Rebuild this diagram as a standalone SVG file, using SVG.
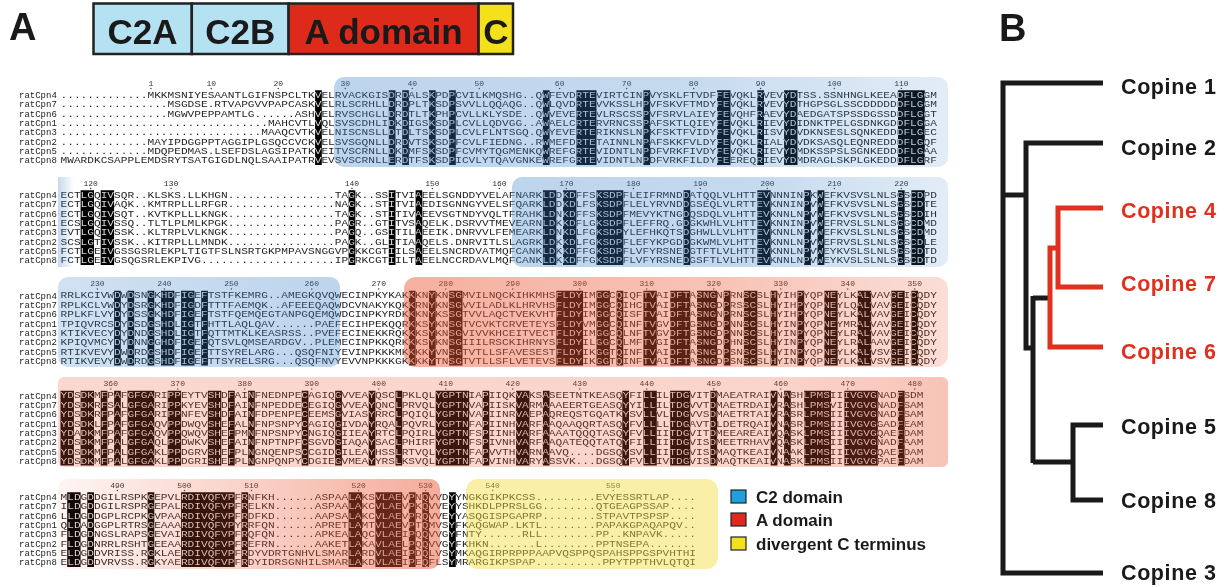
<svg xmlns="http://www.w3.org/2000/svg" xmlns:xlink="http://www.w3.org/1999/xlink" width="1232" height="587" viewBox="0 0 1232 587">
<defs>
<style>
.s{font-family:"Liberation Mono","DejaVu Sans Mono",monospace;font-size:9px;fill:#1e1e1e}
.n{font-family:"Liberation Mono","DejaVu Sans Mono",monospace;font-size:9px;fill:#222}
.t{font-family:"Liberation Mono","DejaVu Sans Mono",monospace;font-size:8px;fill:#333;text-anchor:middle}
.td{fill:none;stroke:#333;stroke-width:1.4;stroke-linecap:round}
.h{font-family:"Liberation Sans",Arial,sans-serif;font-weight:bold}
.hb{stroke:#222;stroke-width:2.5}
.tr{fill:none;stroke:#1a1a1a;stroke-width:5;stroke-linejoin:miter}
.trr{fill:none;stroke:#e0301e;stroke-width:5;stroke-linejoin:miter}
.lg{stroke:#222;stroke-width:1.2}
.inv{fill:#fff;mix-blend-mode:difference}
</style>
<linearGradient id="gB1" x1="0" x2="1"><stop offset="0" stop-color="#3c82c8" stop-opacity=".34"/><stop offset=".55" stop-color="#3c82c8" stop-opacity=".3"/><stop offset="1" stop-color="#3c82c8" stop-opacity=".15"/></linearGradient>
<linearGradient id="gFade" x1="0" x2="1"><stop offset="0" stop-color="#3c82c8" stop-opacity=".3"/><stop offset="1" stop-color="#3c82c8" stop-opacity="0"/></linearGradient>
<linearGradient id="gB3" x1="0" x2="1"><stop offset="0" stop-color="#3c82c8" stop-opacity=".24"/><stop offset="1" stop-color="#3c82c8" stop-opacity=".34"/></linearGradient>
<linearGradient id="gR3" x1="0" x2="1"><stop offset="0" stop-color="#eb5a37" stop-opacity=".48"/><stop offset=".6" stop-color="#eb5a37" stop-opacity=".36"/><stop offset="1" stop-color="#eb5a37" stop-opacity=".2"/></linearGradient>
<linearGradient id="gR4" x1="0" x2="1"><stop offset="0" stop-color="#eb5a37" stop-opacity=".24"/><stop offset=".8" stop-color="#eb5a37" stop-opacity=".26"/><stop offset="1" stop-color="#eb5a37" stop-opacity=".36"/></linearGradient>
<linearGradient id="gR5" x1="0" x2="1"><stop offset="0" stop-color="#eb5a37" stop-opacity=".06"/><stop offset="1" stop-color="#eb5a37" stop-opacity=".5"/></linearGradient>
<path id="k1" d="M315.1 90.3h6.7v74.8h-6.7zM388.8 90.3h6.7v74.8h-6.7zM402.2 90.3h6.7v74.8h-6.7zM429 90.3h6.7v74.8h-6.7zM449.1 90.3h6.7v74.8h-6.7zM542.9 90.3h6.7v74.8h-6.7zM576.4 90.3h20.1v74.8h-20.1zM643.4 90.3h6.7v74.8h-6.7zM717.1 90.3h13.4v74.8h-13.4zM757.3 90.3h6.7v74.8h-6.7zM784.1 90.3h13.4v74.8h-13.4zM898 90.3h26.8v74.8h-26.8z"/>
<path id="k2" d="M80.6 190.3h13.4v74.8h-13.4zM100.7 190.3h13.4v74.8h-13.4zM348.6 190.3h6.7v74.8h-6.7zM388.8 190.3h6.7v74.8h-6.7zM415.6 190.3h6.7v74.8h-6.7zM542.9 190.3h13.4v74.8h-13.4zM563 190.3h13.4v74.8h-13.4zM596.5 190.3h26.8v74.8h-26.8zM683.6 190.3h6.7v74.8h-6.7zM757.3 190.3h13.4v74.8h-13.4zM804.2 190.3h6.7v74.8h-6.7zM817.6 190.3h6.7v74.8h-6.7zM898 190.3h6.7v74.8h-6.7zM911.4 190.3h13.4v74.8h-13.4z"/>
<path id="k3" d="M114.1 290.8h6.7v74.8h-6.7zM127.5 290.8h6.7v74.8h-6.7zM147.6 290.8h6.7v74.8h-6.7zM161 290.8h13.4v74.8h-13.4zM181.1 290.8h13.4v74.8h-13.4zM201.2 290.8h6.7v74.8h-6.7zM408.9 290.8h6.7v74.8h-6.7zM429 290.8h6.7v74.8h-6.7zM449.1 290.8h13.4v74.8h-13.4zM556.3 290.8h26.8v74.8h-26.8zM596.5 290.8h13.4v74.8h-13.4zM616.6 290.8h6.7v74.8h-6.7zM643.4 290.8h13.4v74.8h-13.4zM670.2 290.8h20.1v74.8h-20.1zM697 290.8h20.1v74.8h-20.1zM723.8 290.8h6.7v74.8h-6.7zM743.9 290.8h13.4v74.8h-13.4zM770.7 290.8h6.7v74.8h-6.7zM797.5 290.8h6.7v74.8h-6.7zM824.3 290.8h13.4v74.8h-13.4zM857.8 290.8h13.4v74.8h-13.4zM891.3 290.8h13.4v74.8h-13.4zM911.4 290.8h6.7v74.8h-6.7z"/>
<path id="k4" d="M60.5 390.8h13.4v74.8h-13.4zM80.6 390.8h13.4v74.8h-13.4zM100.7 390.8h6.7v74.8h-6.7zM114.1 390.8h6.7v74.8h-6.7zM127.5 390.8h26.8v74.8h-26.8zM167.7 390.8h13.4v74.8h-13.4zM207.9 390.8h13.4v74.8h-13.4zM228 390.8h6.7v74.8h-6.7zM248.1 390.8h6.7v74.8h-6.7zM301.7 390.8h6.7v74.8h-6.7zM335.2 390.8h6.7v74.8h-6.7zM368.7 390.8h6.7v74.8h-6.7zM395.5 390.8h6.7v74.8h-6.7zM435.7 390.8h33.5v74.8h-33.5zM482.6 390.8h6.7v74.8h-6.7zM516.1 390.8h13.4v74.8h-13.4zM542.9 390.8h6.7v74.8h-6.7zM622.3 390.8h6.7v74.8h-6.7zM643.4 390.8h13.4v74.8h-13.4zM670.2 390.8h20.1v74.8h-20.1zM710.4 390.8h6.7v74.8h-6.7zM770.7 390.8h6.7v74.8h-6.7zM784.1 390.8h6.7v74.8h-6.7zM804.2 390.8h26.8v74.8h-26.8zM844.4 390.8h33.5v74.8h-33.5zM898 390.8h6.7v74.8h-6.7z"/>
<path id="k5" d="M67.2 492.3h13.4v74.8h-13.4zM87.3 492.3h6.7v74.8h-6.7zM147.6 492.3h6.7v74.8h-6.7zM181.1 492.3h53.6v74.8h-53.6zM241.4 492.3h6.7v74.8h-6.7zM348.6 492.3h13.4v74.8h-13.4zM375.4 492.3h26.8v74.8h-26.8zM408.9 492.3h6.7v74.8h-6.7zM422.3 492.3h6.7v74.8h-6.7zM449.1 492.3h6.7v74.8h-6.7z"/>
</defs>
<rect width="1232" height="587" fill="#fff"/>

<g id="panelA-label"><text class="h" x="9" y="40" font-size="38" fill="#1a1a1a">A</text></g>
<g id="domain-bar">
<rect class="hb" x="93.5" y="3.5" width="98.3" height="50.5" fill="#b5e2f3"/>
<rect class="hb" x="191.8" y="3.5" width="96.8" height="50.5" fill="#b5e2f3"/>
<rect class="hb" x="288.6" y="3.5" width="190" height="50.5" fill="#dd2a1b"/>
<rect class="hb" x="478.6" y="3.5" width="34.4" height="50.5" fill="#f5e01c"/>
<g class="h" font-size="35" fill="#1a1a1a" text-anchor="middle">
<text x="142.6" y="44">C2A</text><text x="240.2" y="44">C2B</text><text x="383.6" y="44">A domain</text><text x="495.8" y="44">C</text>
</g>
</g>

<!-- Block 1 -->
<g id="block1">
<g transform="matrix(1.24056 0 0 1 60.5 0)"><text class="s"><tspan x="0" y="98">.............MKKMSNIYESAANTLGIFNSPCLTKVELRVACKGISDRDALSKPDPCVILKMQSHG..QWFEVDRTEVIRTCINPVYSKLFTVDFFEVQKLRVEVYDTSS.SSNHNGLKEEADFLGGM</tspan><tspan x="0" y="107.35">................MSGDSE.RTVAPGVVPAPCASKVELRLSCRHLLDRDPLTKSDPSVVLLQQAQG..QWLQVDRTEVVKSSLHPVFSKVFTMDYFEVQKLRVEVYDTHGPSGLSSCDDDDDDFLGGM</tspan><tspan x="0" y="116.7">................MGWVPEPPAMTLG......ASHVELRVSCHGLLDRDTLTKPHPCVLLKLYSDE..QWVEVERTEVLRSCSSPVFSRVLAIEYFEVQHFRAEVYDAEDGATSPSSDGSSDDFLGGT</tspan><tspan x="0" y="126.05">...............................MAHCVTLVQLSVSCDHLIDKDIGSKSDPLCVLLQDVGG..AWAELCRTERVRNCSSPAFSKTLQIEYFEVQKLRIEVYDIDNKTPELGSDNKGDDFLGGA</tspan><tspan x="0" y="135.4">..............................MAAQCVTKVELNISCNSLLDTDLTSKSDPLCVLFLNTSGQ.QWYEVERTERIKNSLNPKFSKTFVIDYFEVQKLRISVYDVDKNSESLSQNKEDDDFLGEC</tspan><tspan x="0" y="144.75">.............MAYIPDGGPPTAGGIPLGSQCCVCKVELSVSGQNLLDRDVTSKSDPFCVLFIEDNG..RWMEFDRTETAINNLNPAFSKKFVLDYFEVQKLRIALYDVDKSASQLEQNREDDDFLGQF</tspan><tspan x="0" y="154.1">.............MDQPEDMAS.LSEFDSLAGSIPATKVEITVSCRNLLDKDMFSKSDPFCVMYTQGMENKQWREFGRTEVIDNTLNPDFVRKFIVDYFEVQKLRIEVYDMDKSSPSLSGNKEDDDFLGAA</tspan><tspan x="0" y="163.45">MWARDKCSAPPLEMDSRYTSATGIGDLNQLSAAIPATRVEVSVSCRNLLERDTFSKSDPICVLYTQAVGNKEWREFGRTEVIDNTLNPDFVRKFILDYFEEREQRIEVYDMDRAGLSKPLGKEDDDFLGRF</tspan></text></g>
<use xlink:href="#k1" class="inv"/>
<g class="t"><text x="150.95" y="85.5">1</text><text x="211.25" y="85.5">10</text><text x="278.25" y="85.5">20</text><text x="345.25" y="85.5">30</text><text x="412.25" y="85.5">40</text><text x="479.25" y="85.5">50</text><text x="559.65" y="85.5">60</text><text x="626.65" y="85.5">70</text><text x="693.65" y="85.5">80</text><text x="760.65" y="85.5">90</text><text x="834.35" y="85.5">100</text><text x="901.35" y="85.5">110</text></g>
<path class="td" d="M150.95 88.5h0M211.25 88.5h0M278.25 88.5h0M345.25 88.5h0M412.25 88.5h0M479.25 88.5h0M559.65 88.5h0M626.65 88.5h0M693.65 88.5h0M760.65 88.5h0M834.35 88.5h0M901.35 88.5h0"/>
<rect x="334" y="77" width="614" height="90" rx="10" fill="url(#gB1)"/>
<text class="n"><tspan x="19" y="98">ratCpn4</tspan><tspan x="19" y="107.35">ratCpn7</tspan><tspan x="19" y="116.7">ratCpn6</tspan><tspan x="19" y="126.05">ratCpn1</tspan><tspan x="19" y="135.4">ratCpn3</tspan><tspan x="19" y="144.75">ratCpn2</tspan><tspan x="19" y="154.1">ratCpn5</tspan><tspan x="19" y="163.45">ratCpn8</tspan></text>
</g>

<!-- Block 2 -->
<g id="block2">
<g transform="matrix(1.24056 0 0 1 60.5 0)"><text class="s"><tspan x="0" y="198">ECTLGQIVSQR..KLSKS.LLKHGN................TAGK..SSITVIAEELSGNDDYVELAFNARKLDDKDFFSKSDPFLEIFRMNDDATQQLVLHTTEVNNNINPKWEFKVSVSLNLSGSCDPD</tspan><tspan x="0" y="207.35">ECTLGQIVAQK..KMTRPLLLRFGR................NAGK..STITVIAEDISGNNGYVELSFQARKLDDKDLFSKSDPFLELYRVNDDGSEQLVLRTTEVKNNINPVWEFKVSVSLNLSGSCDTE</tspan><tspan x="0" y="216.7">ECTLGQIVSQT..KVTKPLLLKNGK................TAGK..STITIVAEEVSGTNDYVQLTFRAHKLDNKDFFSKSDPFMEVYKTNGDQSDQLVLHTTEVKNNLNPVWEFKVSVSLNLSGSCDIH</tspan><tspan x="0" y="226.05">ECSLGQIVSSQ..TLTLPLMLKPGK................PAGR..GTITVSAQELK.DSRVVTMEVEARNLDKKDFLGKSDPFLEFFRQ.GDGKWHLVLHTTEVKNNINPVWEFRVSLSLNLSGGCDMD</tspan><tspan x="0" y="235.4">EVTLGQIVSSK..KLTRPLVLKNGK................PAGQ..GSITILAEEIK.DNRVVLFEMEARKLDNKDLFGKSDPYLEFHKQTSDGHWLLVLHTTEVKNNLNPVWEFKVSLSLNLSGSCDMD</tspan><tspan x="0" y="244.75">SCSLGTIVSSK..KITRPLLLMNDK................PAGK..GLITIAAQELS.DNRVITLSLAGRKLDKKDLFGKSDPFLEFYKPGDDGKWMLVLHTTEVKNNLNPVWEFRVSLSLNLSGSCDLE</tspan><tspan x="0" y="254.1">FCTLGEIVGSSGSRLEKPLTIGTFSLNSRTGKPMPAVSNGGVPGKKCGTIILSAEELSNCRDVATMQFCANKLDKKDFFGKSDPFLVFYRSNEDGTFTLVLHTTEVKNNLNPVWEYKVSLSLNLSGSCDTD</tspan><tspan x="0" y="263.45">FCTLGEIVGSQGSRLEKPIVG....................IPGRKCGTIILTAEELNCCRDAVLMQFCANKLDKKDFFGKSDPFLVFYRSNEDGSFTLVLHTTEVKNNLNPVWEYKVSLSLNLSGSCDTD</tspan></text></g>
<use xlink:href="#k2" class="inv"/>
<g class="t"><text x="90.65" y="185.5">120</text><text x="171.05" y="185.5">130</text><text x="351.95" y="185.5">140</text><text x="432.35" y="185.5">150</text><text x="499.35" y="185.5">160</text><text x="566.35" y="185.5">170</text><text x="633.35" y="185.5">180</text><text x="700.35" y="185.5">190</text><text x="767.35" y="185.5">200</text><text x="834.35" y="185.5">210</text><text x="901.35" y="185.5">220</text></g>
<path class="td" d="M90.65 188.5h0M171.05 188.5h0M351.95 188.5h0M432.35 188.5h0M499.35 188.5h0M566.35 188.5h0M633.35 188.5h0M700.35 188.5h0M767.35 188.5h0M834.35 188.5h0M901.35 188.5h0"/>
<rect x="58" y="177" width="16" height="90" fill="url(#gFade)"/>
<rect x="512" y="177" width="436" height="90" rx="10" fill="url(#gB1)"/>
<text class="n"><tspan x="19" y="198">ratCpn4</tspan><tspan x="19" y="207.35">ratCpn7</tspan><tspan x="19" y="216.7">ratCpn6</tspan><tspan x="19" y="226.05">ratCpn1</tspan><tspan x="19" y="235.4">ratCpn3</tspan><tspan x="19" y="244.75">ratCpn2</tspan><tspan x="19" y="254.1">ratCpn5</tspan><tspan x="19" y="263.45">ratCpn8</tspan></text>
</g>

<!-- Block 3 -->
<g id="block3">
<g transform="matrix(1.24056 0 0 1 60.5 0)"><text class="s"><tspan x="0" y="298.5">RRLKCIVWDWDSNGKHDFIGEFTSTFKEMRG..AMEGKQVQWECINPKYKAKKKNYKNSGMVILNQCKIHKMHSFLDYIMGGCQIQFTVAIDFTASNGNPRNSCSLHYIHPYQPNEYLKALVAVGEICQDY</tspan><tspan x="0" y="307.85">RPLKCLVWDYDSRGKHDFIGDFTTTFAEMQK..AFEEEQAQWDCVNAKYKQKKRNYKNSGVVILADLKLHRVHSFLDYIMGGCQIHCTVAIDFTASNGDPRSSCSLHYIHPYQPNEYLQALVAVGEICQDY</tspan><tspan x="0" y="317.2">RPLKFLVYDYDSSGKHDFIGEFTSTFQEMQEGTANPGQEMQWDCINPKYRDKKKNYKSSGTVVLAQCTVEKVHTFLDYIMGGCQISFTVAIDFTASNGNPRNSCSLHYIHPYQPNEYLKALVAVGEICQDY</tspan><tspan x="0" y="326.55">TPIQVRCSDYDSDGSHDLIGTFHTTLAQLQAV......PAEFECIHPEKQQRKKSYKNSGTVCVKTCRVETEYSFLDYVMGGCQINFTVGVDFTGSNGDPNNSCSLHYINPYQPNEYMRALVAVGEICQDY</tspan><tspan x="0" y="335.9">KTIKVECYDYDNDGSHDLIGTFQTTMTKLKEASRSS..PVEFECINEKKRQKKKSYKNSGVIVVKHCEITVECTFLDYIMGGCQLNFTVGVDFTGSNGDPNNSCSLHYINPYQPNEYLRALVAVGEICQDY</tspan><tspan x="0" y="345.25">KPIQVMCYDYDNNGGHDFIGEFQTSVLQMSEARDGV..PLEMECINPKKQRKKKSYKNSGIIILRSCKIHRNYSFLDYILGGCQLMFTVGIDFTASNGDPHNSCSLHYINPYQPNEYLRALAAVGEICQDY</tspan><tspan x="0" y="354.6">RTIKVEVYDWDRDGSHDFIGEFTTSYRELARG...QSQFNIYEVINPKKKMKKKKYVNSGTVTLLSFAVESESTFLDYIKGGTQINFTVAIDFTASNGDPSNSCSLHYINPYQPNEYLKALVSVGEICQDY</tspan><tspan x="0" y="363.95">RTIKVEVYDWDRDGSHDFIGEFTTSYRELSRG...QSQFNVYEVVNPKKKGKKKKYTNSGTVTLLSFLVETEVSFLDYIKGGTQINFTVAIDFTASNGDPSNSCSLHYINPYQPNEYLKALVSVGEICQDY</tspan></text></g>
<use xlink:href="#k3" class="inv"/>
<g class="t"><text x="97.35" y="286">230</text><text x="164.35" y="286">240</text><text x="231.35" y="286">250</text><text x="311.75" y="286">260</text><text x="378.75" y="286">270</text><text x="445.75" y="286">280</text><text x="512.75" y="286">290</text><text x="579.75" y="286">300</text><text x="646.75" y="286">310</text><text x="713.75" y="286">320</text><text x="780.75" y="286">330</text><text x="847.75" y="286">340</text><text x="914.75" y="286">350</text></g>
<path class="td" d="M97.35 289h0M164.35 289h0M231.35 289h0M311.75 289h0M378.75 289h0M445.75 289h0M512.75 289h0M579.75 289h0M646.75 289h0M713.75 289h0M780.75 289h0M847.75 289h0M914.75 289h0"/>
<rect x="58" y="277" width="282" height="90" rx="10" fill="url(#gB3)"/>
<rect x="404" y="277" width="544" height="90" rx="12" fill="url(#gR3)"/>
<text class="n"><tspan x="19" y="298.5">ratCpn4</tspan><tspan x="19" y="307.85">ratCpn7</tspan><tspan x="19" y="317.2">ratCpn6</tspan><tspan x="19" y="326.55">ratCpn1</tspan><tspan x="19" y="335.9">ratCpn3</tspan><tspan x="19" y="345.25">ratCpn2</tspan><tspan x="19" y="354.6">ratCpn5</tspan><tspan x="19" y="363.95">ratCpn8</tspan></text>
</g>

<!-- Block 4 -->
<g id="block4">
<g transform="matrix(1.24056 0 0 1 60.5 0)"><text class="s"><tspan x="0" y="398.5">YDSDKMFPAFGFGARIPPEYTVSHDFAINFNEDNPECAGIQGVVEAYQSCLPKLQLYGPTNIAPIIQKVAKSASEETNTKEASQYFILLILTDGVITDMAEATRAIVNASHLPMSIIIVGVGNADFSDM</tspan><tspan x="0" y="407.85">YDSDKRFSALGFGARIPPKYEVSHDFAINFNPEDDECEGIQGVVEAYQNCLPRVQLYGPTNVAPIISKVARMAAAEERTGEASQYYILLILTDGVVTDMAETRDAIVRASHLPMSVIIVGVGNADFSAM</tspan><tspan x="0" y="417.2">YDSDKRFPAFGFGARIPPNFEVSHDFAINFDPENPECEEMSGVIASYRRCLPQIQLYGPTNVAPIINRVAEPAQREQSTGQATKYSVLLVLTDGVVSDMAETRTAIVRASRLPMSIIIVGVGNADFSAM</tspan><tspan x="0" y="426.55">YDSDKLFPAFGFGAQVPPDWQVSHEFALNFNPSNPYCAGIQGIVDAYRQALPQVRLYGPTNFAPIINHVARFAAQAAQQRTASQYFVLLLLTDGAVTDLDETRQAIVNASRLPMSIIIVGVGGADFEAM</tspan><tspan x="0" y="435.9">YDADKMFPAFGFGAQVPPQWQVSHEFPMNFNPSNPYCNGIQGIIEAYRTCLPQIRLYGPTNFSPIINHVARFAAAATQQQTASQYFVLLIITDGVITDMEEAREAIVQASKLPMSIIIVGVGQAEFDAM</tspan><tspan x="0" y="445.25">YDSDKMFPALGFGAQLPPDWKVSHEFAINFNPTNPFCSGVDGIAQAYSACLPHIRFYGPTNFSPIVNHVARFAAQATEQQTATQYFILLIITDGVISDMEETRHAVVQASKLPMSIIIVGVGNADFAAM</tspan><tspan x="0" y="454.6">YDSDKMFPALGFGAKLPPDGRVSHEFPLNGNQENPSCCGIDGILEAYHSSLRTVQLYGPTNFAPVVTHVARNAAVQ....DGSQYSVLLIITDGVISDMAQTKEAIVNAAKLPMSIIIVGVGQAEFDAM</tspan><tspan x="0" y="463.95">YDSDKMFPALGFGAKLPPDGRISHEFPLNGNPQNPYCDGIEGVMEAYYRSLKSVQLYGPTNFAPVINHVARYASSVK...DGSQYFVLLIVTDGVISDMAQTKEAIVNASKLPMSIIIVGVGPAEFDAM</tspan></text></g>
<use xlink:href="#k4" class="inv"/>
<g class="t"><text x="110.75" y="386">360</text><text x="177.75" y="386">370</text><text x="244.75" y="386">380</text><text x="311.75" y="386">390</text><text x="378.75" y="386">400</text><text x="445.75" y="386">410</text><text x="512.75" y="386">420</text><text x="579.75" y="386">430</text><text x="646.75" y="386">440</text><text x="713.75" y="386">450</text><text x="780.75" y="386">460</text><text x="847.75" y="386">470</text><text x="914.75" y="386">480</text></g>
<path class="td" d="M110.75 389h0M177.75 389h0M244.75 389h0M311.75 389h0M378.75 389h0M445.75 389h0M512.75 389h0M579.75 389h0M646.75 389h0M713.75 389h0M780.75 389h0M847.75 389h0M914.75 389h0"/>
<rect x="58" y="377" width="890" height="90" rx="6" fill="url(#gR4)"/>
<text class="n"><tspan x="19" y="398.5">ratCpn4</tspan><tspan x="19" y="407.85">ratCpn7</tspan><tspan x="19" y="417.2">ratCpn6</tspan><tspan x="19" y="426.55">ratCpn1</tspan><tspan x="19" y="435.9">ratCpn3</tspan><tspan x="19" y="445.25">ratCpn2</tspan><tspan x="19" y="454.6">ratCpn5</tspan><tspan x="19" y="463.95">ratCpn8</tspan></text>
</g>

<!-- Block 5 -->
<g id="block5">
<g transform="matrix(1.24056 0 0 1 60.5 0)"><text class="s"><tspan x="0" y="500">MLDGDDGILRSPKGEPVLRDIVQFVPFRNFKH......ASPAALAKSVLAEVPNQVVDYYNGKGIKPKCSS.........EVYESSRTLAP....</tspan><tspan x="0" y="509.35">ILDGDDGILRSPRGEPALRDIVQFVPFRELKN......ASPAALAKCVLAEVPKQVVEYYSHKDLPPRSLGG........QTGEAGPSSAP....</tspan><tspan x="0" y="518.7">LLDGDDGPLRCPKGVPAARDIVQFVPFRDFKD......AAPSALAKCVLAEVPRQVVEYYASQGISPGAPRP........STPAVTPSPSP....</tspan><tspan x="0" y="528.05">QLDADGGPLRTRSGEAAARDIVQFVPYRRFQN......APRETLAMTVLAEVPTQMVSYFKAQGWAP.LKTL........PAPAKGPAQAPQV..</tspan><tspan x="0" y="537.4">FLDGDNGSLRAPSGEVAIRDIVQFVPFRQFQN......APKEALAQCVLAEIPQQVVGYFNTY......RLL........PP..KNPAVK.....</tspan><tspan x="0" y="546.75">FLDGDNRRLRSHTGEEAARDIVQFVPFREFRN......AAKETLAKAVLAELPQQVVGYFKHKN.......L........PPTNSEPA.......</tspan><tspan x="0" y="556.1">ELDGDDVRISS.RGKLAERDIVQFVPFRDYVDRTGNHVLSMARLARDVLAEIPDQLVSYMKAQGIRPRPPPAAPVQSPPQSPAHSPPGSPVHTHI</tspan><tspan x="0" y="565.45">ELDGDDVRVSS.RGKYAERDIVQFVPFRDYIDRSGNHILSMARLAKDVLAEIPEQFLSYMRARGIKPSPAP..........PPYTPPTHVLQTQI</tspan></text></g>
<use xlink:href="#k5" class="inv"/>
<g class="t"><text x="117.45" y="487.5">490</text><text x="184.45" y="487.5">500</text><text x="251.45" y="487.5">510</text><text x="358.65" y="487.5">520</text><text x="425.65" y="487.5">530</text><text x="492.65" y="487.5">540</text><text x="613.25" y="487.5">550</text></g>
<path class="td" d="M117.45 490.5h0M184.45 490.5h0M251.45 490.5h0M358.65 490.5h0M425.65 490.5h0M492.65 490.5h0M613.25 490.5h0"/>
<rect x="58" y="479" width="382" height="90" rx="10" fill="url(#gR5)"/>
<rect x="466" y="479" width="252" height="90" rx="12" fill="#f5dc3c" fill-opacity=".45"/>
<text class="n"><tspan x="19" y="500">ratCpn4</tspan><tspan x="19" y="509.35">ratCpn7</tspan><tspan x="19" y="518.7">ratCpn6</tspan><tspan x="19" y="528.05">ratCpn1</tspan><tspan x="19" y="537.4">ratCpn3</tspan><tspan x="19" y="546.75">ratCpn2</tspan><tspan x="19" y="556.1">ratCpn5</tspan><tspan x="19" y="565.45">ratCpn8</tspan></text>
</g>

<g id="legend">
<rect class="lg" x="731" y="490" width="15" height="13" fill="#1ea0dc"/>
<rect class="lg" x="731" y="513" width="15" height="13" fill="#e0281c"/>
<rect class="lg" x="731" y="537" width="15" height="13" fill="#f2e21e"/>
<g class="h" font-size="17" fill="#1a1a1a"><text x="756" y="503">C2 domain</text><text x="756" y="526">A domain</text><text x="756" y="550">divergent C terminus</text></g>
</g>

<g id="panelB-label"><text class="h" x="999" y="41" font-size="38" fill="#1a1a1a">B</text></g>
<g id="tree-connectors">
<path class="tr" d="M1103 83H1003V573H1103"/>
<path class="tr" d="M1003 195H1026"/>
<path class="tr" d="M1103 143H1026V348H1035"/>
<path class="tr" d="M1033 296V463"/>
<path class="tr" d="M1033 298H1050"/>
<path class="tr" d="M1033 462H1073"/>
<path class="tr" d="M1103 425H1073V500H1103"/>
<path class="trr" d="M1103 347H1050V248H1058"/>
<path class="trr" d="M1103 208H1058V287H1103"/>
</g>
<g id="tree-labels" class="h" font-size="21.5" letter-spacing=".6">
<text x="1121" y="94" fill="#1a1a1a">Copine 1</text>
<text x="1121" y="155" fill="#1a1a1a">Copine 2</text>
<text x="1121" y="218" fill="#e0301e">Copine 4</text>
<text x="1121" y="291" fill="#e0301e">Copine 7</text>
<text x="1121" y="359" fill="#e0301e">Copine 6</text>
<text x="1121" y="434" fill="#1a1a1a">Copine 5</text>
<text x="1121" y="508" fill="#1a1a1a">Copine 8</text>
<text x="1121" y="580" fill="#1a1a1a">Copine 3</text>
</g>
</svg>
